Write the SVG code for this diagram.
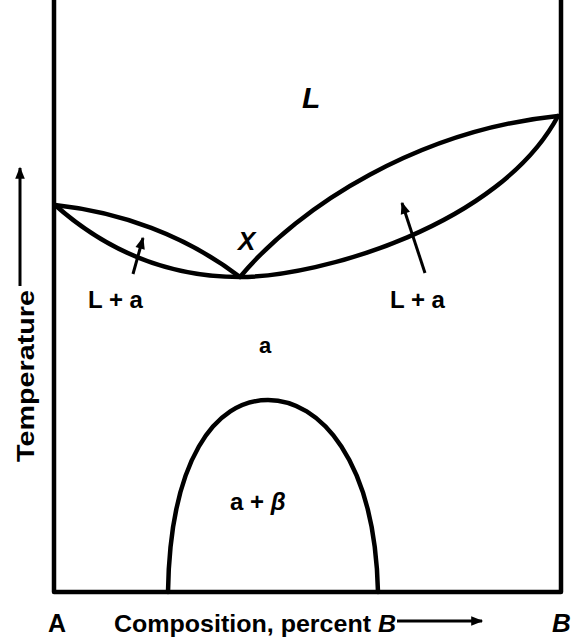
<svg xmlns="http://www.w3.org/2000/svg" width="579" height="640" viewBox="0 0 579 640">
<style>
.ln{fill:none;stroke:#000;stroke-width:4.5;stroke-linecap:round;stroke-linejoin:round}
.thin{fill:none;stroke:#000;stroke-width:3}
.lbl{font-family:"Liberation Sans",Arial,sans-serif;font-weight:bold;fill:#000}
.it{font-style:italic}
</style>
<defs>
<marker id="ah" viewBox="0 0 10 10" refX="9" refY="5" markerWidth="5" markerHeight="4" orient="auto" markerUnits="strokeWidth">
<path d="M0,1 L10,5 L0,9 z" fill="#000"/>
</marker>
</defs>
<rect width="579" height="640" fill="#fff"/>
<g id="frame">
<path class="ln" d="M54,0 L54,592 L561,592 L561,0"/>
</g>
<g id="connectors">
<path class="ln" d="M55,205 C120,212 185,235 240,277 C300,205 420,130 558,116"/>
<path class="ln" d="M55,205 C100,245 160,277 240,277 C320,277 500,225 558,116"/>
<path class="ln" d="M168,592 C170,460 215,400 268,400 C320,400 375,460 378,592"/>
<path class="thin" d="M133,274 L143,238" marker-end="url(#ah)"/>
<path class="thin" d="M425,273 L402,203" marker-end="url(#ah)"/>
<path class="thin" d="M20,286 L20,168" marker-end="url(#ah)"/>
<path class="thin" d="M397,621 L482,621" marker-end="url(#ah)"/>
</g>
<g id="labels">
<text class="lbl it" x="302" y="108" font-size="30">L</text>
<text class="lbl it" x="238" y="250" font-size="26">X</text>
<text class="lbl" x="88" y="308" font-size="24">L + a</text>
<text class="lbl" x="390" y="308" font-size="24">L + a</text>
<text class="lbl" x="259" y="353" font-size="22">a</text>
<text class="lbl" x="230" y="510" font-size="24">a + <tspan class="it">β</tspan></text>
<text class="lbl" x="48" y="632" font-size="25">A</text>
<text class="lbl" x="114" y="632" font-size="24" textLength="282" lengthAdjust="spacingAndGlyphs">Composition, percent <tspan class="it">B</tspan></text>
<text class="lbl it" x="552" y="632" font-size="26">B</text>
<text class="lbl" transform="translate(34,462) rotate(-90)" font-size="24" textLength="172" lengthAdjust="spacingAndGlyphs">Temperature</text>
</g>
</svg>
